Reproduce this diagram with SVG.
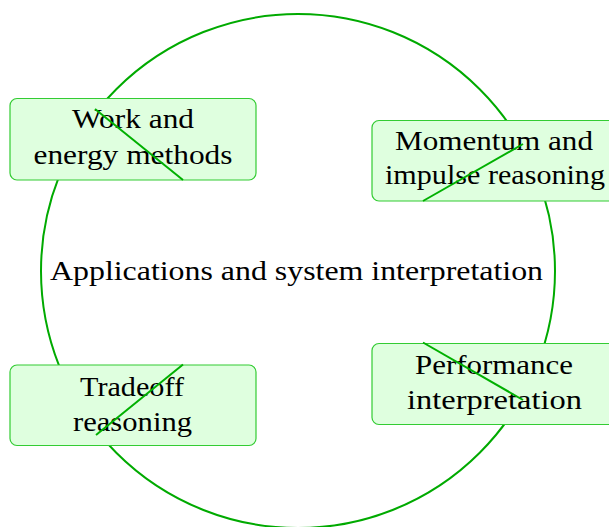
<svg xmlns="http://www.w3.org/2000/svg" width="609" height="527" viewBox="0 0 609 527">
<style>
.ring{fill:none;stroke:#00aa00;stroke-width:2}
.box{fill:#dfffdf;stroke:#33cc33;stroke-width:1.2}
.t{font-family:"Liberation Serif","Times New Roman",serif;font-size:28px;fill:#000000;text-anchor:middle}
.edge{stroke:#00b000;stroke-width:2;fill:none}
</style>
<rect width="609" height="527" fill="#ffffff"/>
<g id="center">
<circle class="ring" cx="298" cy="271" r="257"/>
<text class="t" x="296.5" y="280" textLength="493" lengthAdjust="spacingAndGlyphs">Applications and system interpretation</text>
</g>
<g id="node-work">
<rect class="box" x="10" y="98.5" width="246" height="81.5" rx="7"/>
<text class="t" x="133" y="128" textLength="122" lengthAdjust="spacingAndGlyphs">Work and</text>
<text class="t" x="133" y="164" textLength="199" lengthAdjust="spacingAndGlyphs">energy methods</text>
</g>
<g id="node-momentum">
<rect class="box" x="372" y="120.5" width="247" height="80.5" rx="7"/>
<text class="t" x="494" y="149.5" textLength="198" lengthAdjust="spacingAndGlyphs">Momentum and</text>
<text class="t" x="495" y="184" textLength="220" lengthAdjust="spacingAndGlyphs">impulse reasoning</text>
</g>
<g id="node-tradeoff">
<rect class="box" x="10" y="365" width="246" height="80.5" rx="7"/>
<text class="t" x="132" y="395.5" textLength="104" lengthAdjust="spacingAndGlyphs">Tradeoff</text>
<text class="t" x="132.5" y="431" textLength="119" lengthAdjust="spacingAndGlyphs">reasoning</text>
</g>
<g id="node-performance">
<rect class="box" x="372" y="343.5" width="247" height="81" rx="7"/>
<text class="t" x="494" y="374" textLength="158" lengthAdjust="spacingAndGlyphs">Performance</text>
<text class="t" x="494.5" y="409" textLength="175" lengthAdjust="spacingAndGlyphs">interpretation</text>
</g>
<g id="connectors">
<line class="edge" x1="95" y1="109" x2="183" y2="180"/>
<line class="edge" x1="523" y1="144" x2="423" y2="201"/>
<line class="edge" x1="183" y1="364.5" x2="96" y2="435"/>
<line class="edge" x1="423" y1="342.5" x2="523" y2="400"/>
</g>
</svg>
